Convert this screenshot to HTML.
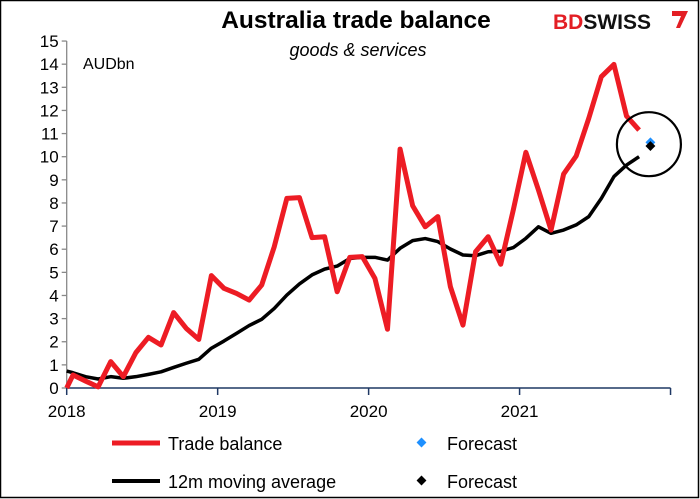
<!DOCTYPE html>
<html><head><meta charset="utf-8"><style>
body{margin:0;background:#fff}
svg{display:block;font-family:"Liberation Sans",Arial,sans-serif}
</style></head><body>
<svg id="chart" width="700" height="499" viewBox="0 0 700 499">
<rect x="0.5" y="0.5" width="698" height="497" fill="#fff" stroke="#000" stroke-width="1.5"/>
<text x="356" y="28" text-anchor="middle" font-size="24.5" font-weight="bold">Australia trade balance</text>
<text x="358" y="56" text-anchor="middle" font-size="18" font-style="italic">goods &amp; services</text>
<g>
<text x="553" y="29" font-size="21" font-weight="bold" fill="#e31e24">BD<tspan fill="#111">SWISS</tspan></text>
<path d="M672 11 L688 11 L680 28 L676 28 L681 16 L672 16 Z" fill="#e31e24"/>
</g>
<text x="83" y="69" font-size="16">AUDbn</text>
<g id="axes"></g>
<g id="plot"></g>
<g>
<line x1="112" y1="443" x2="160" y2="443" stroke="#ed1c24" stroke-width="5"/>
<text x="168" y="450" font-size="18">Trade balance</text>
<rect x="418" y="439" width="7" height="7" fill="#1e90ff" transform="rotate(45 421.5 442.5)"/>
<text x="447" y="450" font-size="18">Forecast</text>
<line x1="112" y1="481" x2="160" y2="481" stroke="#000" stroke-width="4"/>
<text x="168" y="488" font-size="18">12m moving average</text>
<rect x="418" y="477" width="7" height="7" fill="#000" transform="rotate(45 421.5 480.5)"/>
<text x="447" y="488" font-size="18">Forecast</text>
</g>
</svg>
<script>
const yTicks=[0,1,2,3,4,5,6,7,8,9,10,11,12,13,14,15];
const xYears=["2018","2019","2020","2021"];
const tradeBalance=[0.0,0.56,0.3,0.05,1.14,0.49,1.53,2.19,1.86,3.26,2.58,2.1,4.86,4.31,4.09,3.8,4.45,6.11,8.2,8.23,6.5,6.54,4.16,5.65,5.68,4.74,2.54,10.33,7.88,6.97,7.41,4.38,2.72,5.89,6.54,5.35,7.7,10.19,8.56,6.83,9.25,10.03,11.66,13.46,13.99,11.76,11.15];
const movingAvg=[0.73,0.66,0.49,0.39,0.49,0.42,0.49,0.59,0.7,0.89,1.07,1.24,1.72,2.03,2.36,2.7,2.97,3.44,4.02,4.5,4.89,5.14,5.27,5.6,5.65,5.65,5.53,6.04,6.37,6.46,6.33,6.01,5.75,5.72,5.89,5.91,6.07,6.47,6.97,6.69,6.83,7.05,7.41,8.2,9.14,9.64,10.0];
const forecastTrade=10.62, forecastAvg=10.46, forecastPos=46.4;
const NS="http://www.w3.org/2000/svg";
const x0=66.7, monthW=12.58, yZero=388, yUnit=23.13;
function xs(m){return x0+m*monthW;}
function ys(v){return yZero-v*yUnit;}
function posOf(i){return i===0?0:i-0.5;}
function mk(tag,attrs,parent){const e=document.createElementNS(NS,tag);for(const k in attrs)e.setAttribute(k,attrs[k]);parent.appendChild(e);return e;}
const axes=document.getElementById('axes'), plot=document.getElementById('plot');
const ya=mk('line',{x1:x0,y1:ys(15),x2:x0,y2:yZero,stroke:'#888','stroke-width':1.3},axes);


yTicks.forEach(v=>{
  mk('line',{x1:x0-5,y1:ys(v),x2:x0,y2:ys(v),stroke:'#888','stroke-width':1.3},axes);
  const t=mk('text',{x:x0-8,y:ys(v)+6,'text-anchor':'end','font-size':17},axes);
  t.textContent=v;
  
  
});
const xa=mk('line',{x1:x0,y1:yZero,x2:xs(48),y2:yZero,stroke:'#1f3864','stroke-width':1.5},axes);


for(let k=0;k<=4;k++){mk('line',{x1:xs(k*12),y1:yZero,x2:xs(k*12),y2:yZero+7,stroke:'#1f3864','stroke-width':1.5},axes);}
xYears.forEach((y,k)=>{
  const t=mk('text',{x:xs(k*12),y:417,'text-anchor':'middle','font-size':17},axes);
  t.textContent=y;
  
  
});
const ma=mk('polyline',{points:movingAvg.map((v,i)=>xs(posOf(i))+','+ys(v)).join(' '),fill:'none',stroke:'#000','stroke-width':3.5,'stroke-linejoin':'round'},plot);


const tb=mk('polyline',{points:tradeBalance.map((v,i)=>xs(posOf(i))+','+ys(v)).join(' '),fill:'none',stroke:'#ed1c24','stroke-width':5,'stroke-linejoin':'round'},plot);


const fx=xs(forecastPos);
const fb=mk('rect',{x:fx-3.5,y:ys(forecastTrade)-3.5,width:7,height:7,fill:'#1e90ff',transform:`rotate(45 ${fx} ${ys(forecastTrade)})`},plot);


const fk=mk('rect',{x:fx-3.5,y:ys(forecastAvg)-3.5,width:7,height:7,fill:'#000',transform:`rotate(45 ${fx} ${ys(forecastAvg)})`},plot);


const c=mk('circle',{cx:fx-1.5,cy:(ys(forecastTrade)+ys(forecastAvg))/2,r:32,fill:'none',stroke:'#000','stroke-width':2.2},plot);


</script>
</body></html>
